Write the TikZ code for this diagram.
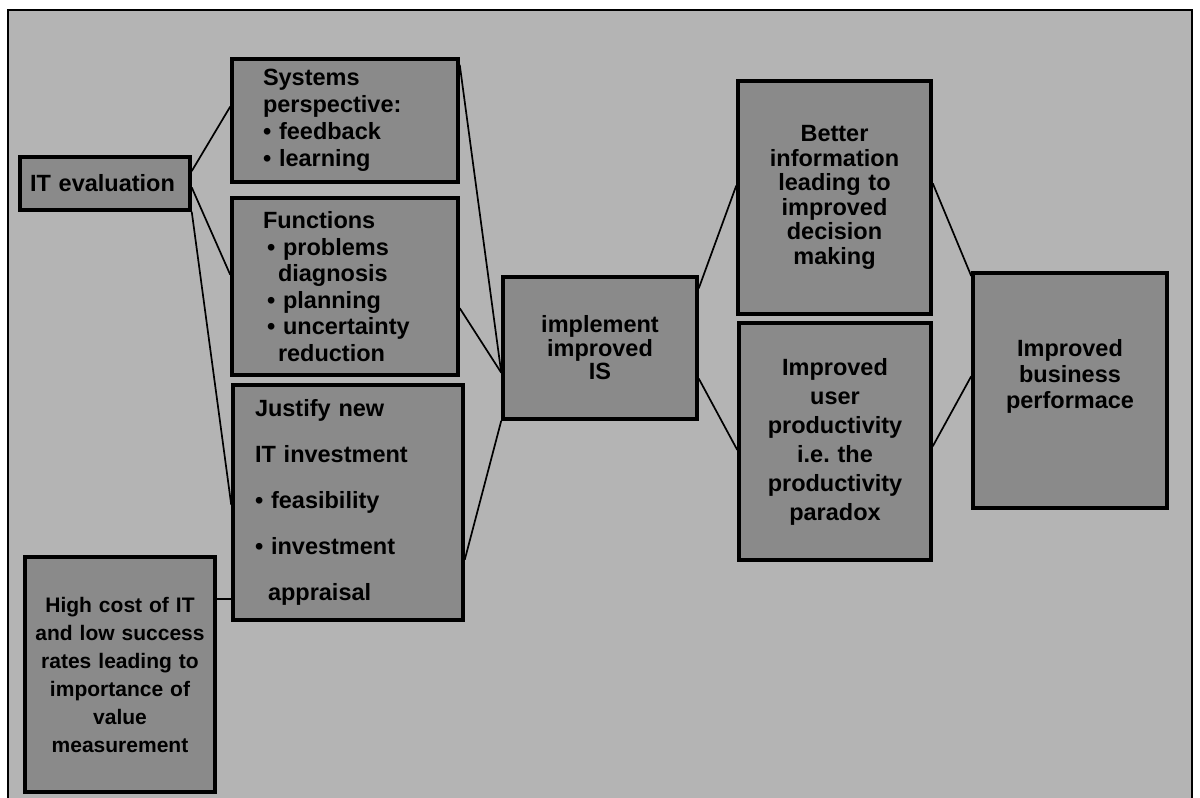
\documentclass[tikz,border=0pt]{standalone}
\usepackage{fontspec}
\setmainfont{Liberation Sans}
\usetikzlibrary{calc}
\definecolor{paper}{HTML}{B4B4B4}
\definecolor{boxgray}{HTML}{8A8A8A}

\begin{document}
\begin{tikzpicture}[x=1pt,y=-1pt,
  box/.style={draw=black, line width=3.5pt, fill=boxgray, rectangle, inner ysep=0pt,
    font=\bfseries\fontsize{23.5}{27}\selectfont},
  txt/.style={inner sep=0pt, align=center, font=\bfseries\fontsize{23.5}{26}\selectfont},
  link/.style={draw=black, line width=1.7pt}]

% page and outer frame
\useasboundingbox (0,0) rectangle (1200,798);
\fill[white] (0,0) rectangle (1200,798);
\draw[line width=2.5pt, fill=paper] (8,10) rectangle (1192,840);

% left column
\node[box, minimum width=170, minimum height=53, text width=150, inner xsep=10, align=left]
  (it) at (105,183.5) {IT evaluation};
\node[box, minimum width=190, minimum height=235, text width=182, inner xsep=4, align=center,
  font=\bfseries\fontsize{21}{28}\selectfont]
  (hc) at (120,674.5) {High cost of IT\\and low success\\rates leading to\\importance of\\value\\measurement};

% second column
\node[box, minimum width=226, minimum height=123, text width=164, inner xsep=31, align=left]
  (sys) at (345,120.5) {Systems\\perspective:\\\textbullet\ feedback\\\textbullet\ learning};
\node[box, minimum width=226, minimum height=177, text width=164, inner xsep=31, align=left,
  font=\bfseries\fontsize{23.5}{26.6}\selectfont]
  (fun) at (345,286.5) {Functions\\\hspace*{4pt}\textbullet\ problems\\\hspace*{15pt}diagnosis\\\hspace*{4pt}\textbullet\ planning\\\hspace*{4pt}\textbullet\ uncertainty\\\hspace*{15pt}reduction};
\node[box, minimum width=230, minimum height=235, text width=186, inner xsep=22, align=left,
  font=\bfseries\fontsize{23.5}{46}\selectfont]
  (jus) at (348,502.5) {Justify new\\IT investment\\\textbullet\ feasibility\\\textbullet\ investment\\\hspace*{13pt}appraisal};

% centre
\node[box, minimum width=194, minimum height=142, text width=180, inner xsep=7, align=center,
  font=\bfseries\fontsize{23.5}{23.5}\selectfont]
  (imp) at (600,348) {implement\\improved\\IS};

% outcomes
\node[box, minimum width=193, minimum height=233, text width=180, inner xsep=6, align=center,
  font=\bfseries\fontsize{23.5}{24.5}\selectfont]
  (bet) at (834.5,197.5) {Better\\information\\leading to\\improved\\decision\\making};
\node[box, minimum width=192, minimum height=237, text width=180, inner xsep=6, align=center,
  font=\bfseries\fontsize{23.5}{29}\selectfont]
  (usr) at (835,441.5) {Improved\\user\\productivity\\i.e.\ the\\productivity\\paradox};
\node[box, minimum width=194, minimum height=235] (bus) at (1070,390.5) {};
\node[txt] (busText) at ([yshift=14pt]bus.center) {Improved\\business\\performace};

% connectors: IT evaluation fans out to the three boxes
\draw[link] ($(it.north east)!0.28!(it.south east)$) -- ($(sys.north west)!0.39!(sys.south west)$);
\draw[link] ($(it.north east)!0.57!(it.south east)$) -- ($(fun.north west)!0.435!(fun.south west)$);
\draw[link] (it.south east) -- ($(jus.north west)!0.51!(jus.south west)$);
\draw[link] ($(hc.north east)!0.183!(hc.south east)$) coordinate (hcOut) -- (hcOut -| jus.west);

% the three boxes converge on the implementation step
\draw[link] ($(sys.north east)!0.06!(sys.south east)$) -- ($(imp.north west)!0.67!(imp.south west)$);
\draw[link] ($(fun.north east)!0.62!(fun.south east)$) -- ($(imp.north west)!0.67!(imp.south west)$);
\draw[link] ($(jus.north east)!0.74!(jus.south east)$) -- (imp.south west);

% implementation leads to the two outcomes
\draw[link] ($(imp.north east)!0.09!(imp.south east)$) -- ($(bet.north west)!0.45!(bet.south west)$);
\draw[link] ($(imp.north east)!0.71!(imp.south east)$) -- ($(usr.north west)!0.535!(usr.south west)$);

% outcomes lead to business performance
\draw[link] ($(bet.north east)!0.44!(bet.south east)$) -- ($(bus.north west)!0.02!(bus.south west)$);
\draw[link] ($(usr.north east)!0.52!(usr.south east)$) -- ($(bus.north west)!0.44!(bus.south west)$);
\end{tikzpicture}
\end{document}
